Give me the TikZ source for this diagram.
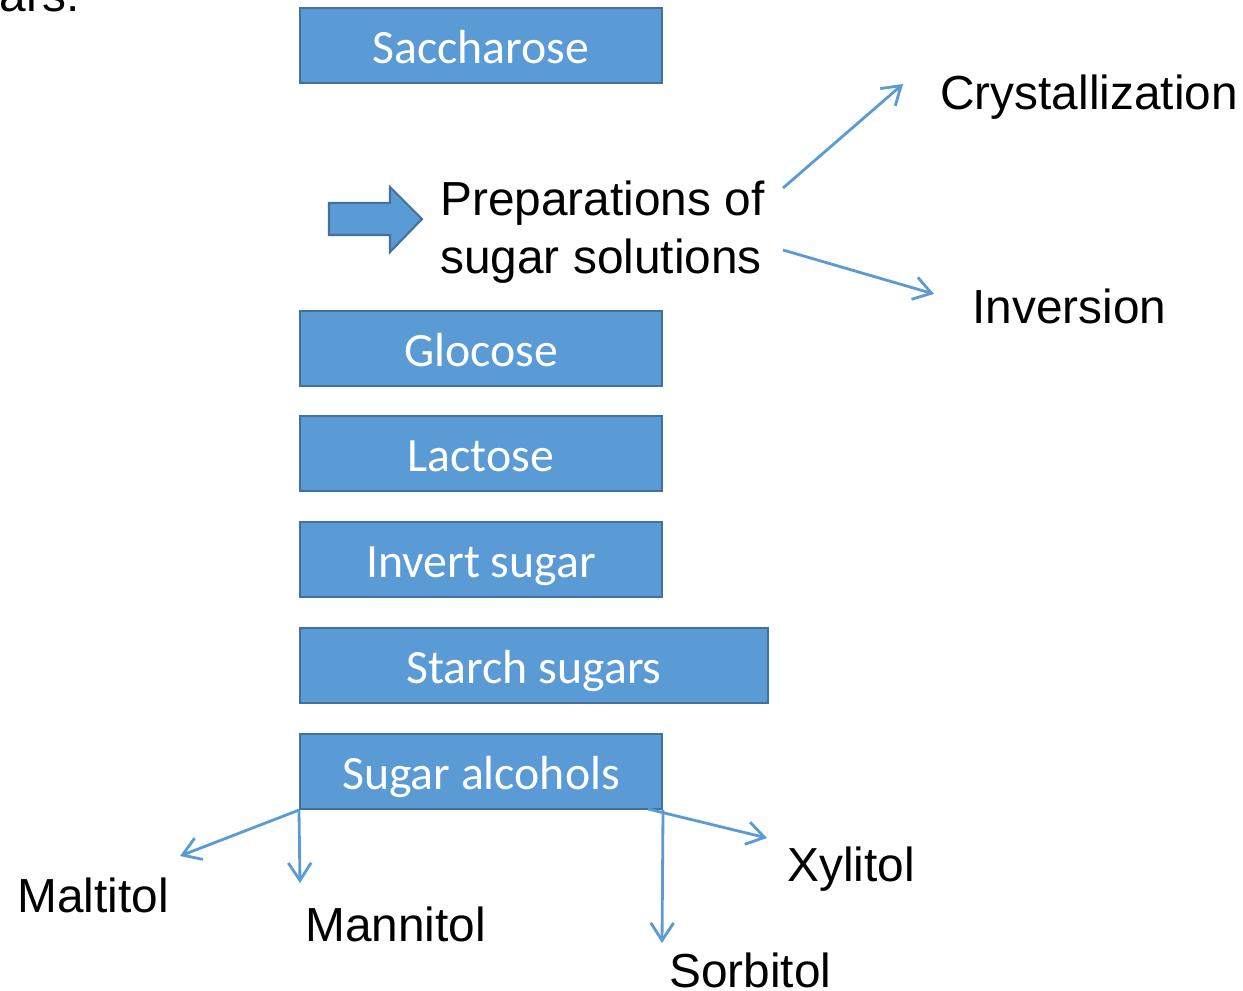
\documentclass[tikz,border=0pt]{standalone}
\usepackage{fontspec}
\setmainfont{Liberation Sans}
\newfontfamily\boxfont{Carlito}
\usetikzlibrary{arrows.meta}
\definecolor{boxblue}{RGB}{91,155,213}
\definecolor{boxedge}{RGB}{65,113,156}
\tikzset{
  sugarbox/.style={shape=rectangle,draw=boxedge,fill=boxblue,line width=1.2pt,
    minimum width=7.24cm,minimum height=1.5cm,inner sep=0pt,text=white,
    text height=20pt,text depth=0pt,
    font=\boxfont\fontsize{27.2}{32}\selectfont},
  txt/.style={inner sep=0pt,font=\fontsize{27.2}{32.5}\selectfont},
  link/.style={draw=boxblue,line width=1.6pt,-{Straight Barb[length=10pt,width=13pt]}}
}
\begin{document}
\begin{tikzpicture}[x=0.02cm,y=-0.02cm]
  \useasboundingbox (0,0) rectangle (1243,990);
  \node[txt,anchor=base east] (head) at (80,12) {ars:};
  \node[sugarbox] (sac) at (481,45.5) {Saccharose};
  \node[sugarbox] (glc) at (481,348.5) {Glocose};
  \node[sugarbox] (lac) at (481,453.5) {Lactose};
  \node[sugarbox] (inv) at (481,559.5) {Invert sugar};
  \node[sugarbox,minimum width=9.36cm] (sta) at (534,665.5) {Starch sugars};
  \node[sugarbox] (alc) at (481,771.5) {Sugar alcohols};
  \filldraw[fill=boxblue,draw=boxedge,line width=1.2pt]
    (329,203) -- (390,203) -- (390,187) -- (422,219) -- (390,252) -- (390,235) -- (329,235) -- cycle;
  \node[txt,anchor=north west,align=left] (prep) at (440,181) {Preparations of\\sugar solutions};
  \node[txt,anchor=base west] (crys) at (940,110) {Crystallization};
  \node[txt,anchor=base west] (invn) at (972,323) {Inversion};
  \node[txt,anchor=base west] (malt) at (17,912) {Maltitol};
  \node[txt,anchor=base west] (mann) at (305,941) {Mannitol};
  \node[txt,anchor=base west] (xyl) at (787,881) {Xylitol};
  \node[txt,anchor=base west] (sorb) at (669,987) {Sorbitol};
  \coordinate (crysFrom) at (783,188);
  \coordinate (crysTip) at (903,84);
  \coordinate (invFrom) at (783,250);
  \coordinate (invTip) at (934,294);
  \coordinate (maltTip) at (180,856);
  \coordinate (mannTip) at (300,883);
  \coordinate (xylFrom) at (648,809);
  \coordinate (xylTip) at (767,838);
  \coordinate (sorbTip) at (662,943);
  \draw[link] (crysFrom) -- (crysTip);
  \draw[link] (invFrom) -- (invTip);
  \draw[link] (alc.south west) -- (maltTip);
  \draw[link] (alc.south west) -- (mannTip);
  \draw[link] (xylFrom) -- (xylTip);
  \draw[link] (alc.south east) -- (sorbTip);
\end{tikzpicture}
\end{document}
